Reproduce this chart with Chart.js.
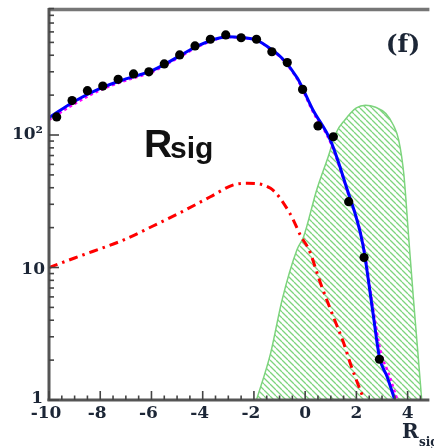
<!DOCTYPE html>
<html>
<head>
<meta charset="utf-8">
<script src="https://cdn.jsdelivr.net/npm/chart.js@4.4.1/dist/chart.umd.min.js"></script>
<style>
  html, body { margin: 0; padding: 0; background: #ffffff; }
  #wrap { width: 434px; height: 448px; }
</style>
</head>
<body>
<div id="wrap"><canvas id="c" width="434" height="448"></canvas></div>
<script>
// ---- data ----
const binCenters = [-9.7,-9.1,-8.5,-7.9,-7.3,-6.7,-6.1,-5.5,-4.9,-4.3,-3.7,-3.1,-2.5,-1.9,-1.3,-0.7,-0.1,0.5,1.1,1.7,2.3,2.9];
const dataCounts = [137,182,216,234,263,289,300,344,402,470,528,569,542,528,425,352,221,117,97,31.4,11.9,2.03];

const fitX = [-10,-9,-8,-7,-6,-5,-4.2,-3.5,-3.0,-2.5,-1.9,-1.3,-0.9,-0.3,0.3,1.0,1.6,2.25,2.65,2.9,3.2,3.5];
const fitY = [135,180,225,265,305,385,470,530,552,545,520,440,380,268,155,90,41,15,4.5,2.1,1.5,1.0];

const altX = [-10,-9,-8,-7,-6,-5,-4.2,-3.5,-3.0,-2.5,-1.9,-1.3,-0.9,-0.3,0.3,1.0,1.6,2.25,2.65,2.95,3.25,3.6];
const altY = [130,172,218,258,298,378,462,525,548,543,518,436,375,262,150,87,40,15.5,4.9,2.3,1.6,1.0];

const bkgX = [-10,-9,-8.3,-7.1,-6,-4.8,-3.7,-2.8,-2.25,-1.35,-0.6,-0.15,0.15,0.6,1.1,1.5,1.8,2.3];
const bkgY = [10,11.8,13.2,16.1,20.3,26.4,34.2,42,43.2,39.6,25.7,17,13.6,7.6,4.25,2.7,1.8,1.0];

const sigX = [-1.9,-1.35,-0.9,-0.32,-0.06,0.45,0.9,1.22,1.55,2.0,2.35,2.75,3.15,3.45,3.65,3.85,4.04,4.23,4.39,4.55];
const sigY = [1.0,2.25,5.7,13.6,17.1,38.5,68.6,105,130,160,168,162,145,118,92,51,17,5.7,2.4,1.0];

const xTickValues = [-10,-8,-6,-4,-2,0,2,4];
const xTickLabels = ["-10","-8","-6","-4","-2","0","2","4"];
const yTickValues = [1,10,100];
const yTickLabels = ["1","10","10\u00B2"];

// ---- helpers ----
function pts(xs, ys) { return xs.map((v, i) => ({ x: v, y: ys[i] })); }

function hatchPattern(color) {
  const s = 6;
  const c = document.createElement('canvas');
  c.width = s; c.height = s;
  const g = c.getContext('2d');
  g.strokeStyle = color;
  g.lineWidth = 1.3;
  g.beginPath();
  for (let k = -1; k <= 1; k++) {
    g.moveTo(k * s, 0);
    g.lineTo(k * s + s, s);
  }
  g.stroke();
  return g.createPattern(c, 'repeat');
}

const green = 'rgb(125,212,125)';

const framePlugin = {
  id: 'frame',
  afterDatasetsDraw(chart) {
    const { ctx, chartArea: a, scales: { x, y } } = chart;
    const seg = (x1, y1, x2, y2) => { ctx.beginPath(); ctx.moveTo(x1, y1); ctx.lineTo(x2, y2); ctx.stroke(); };
    ctx.save();
    // frame
    ctx.strokeStyle = '#767676'; ctx.lineWidth = 3.5;
    seg(a.left - 1, a.top + 1.5, a.right, a.top + 1.5);
    ctx.strokeStyle = '#555'; ctx.lineWidth = 3;
    seg(a.left, a.top, a.left, a.bottom + 1);
    seg(a.left - 1.5, a.bottom, a.right, a.bottom);
    // x ticks (inward)
    ctx.strokeStyle = '#444'; ctx.lineWidth = 1.6;
    for (let i = Math.ceil(x.min * 2); i <= Math.floor(x.max * 2); i++) {
      const v = i / 2;
      const px = x.getPixelForValue(v);
      const len = (i % 4 === 0) ? 9 : 4.5;
      seg(px, a.bottom, px, a.bottom - len);
    }
    // y ticks (inward, log)
    for (let d = 1; d <= 100; d *= 10) {
      for (let k = 1; k <= 9; k++) {
        const v = d * k;
        if (v > y.max) break;
        const py = y.getPixelForValue(v);
        const len = (k === 1) ? 10 : 5;
        seg(a.left, py, a.left + len, py);
      }
    }
    // tick labels
    ctx.fillStyle = '#1c2636';
    ctx.font = 'bold 17px "DejaVu Serif"';
    ctx.textAlign = 'center'; ctx.textBaseline = 'middle';
    xTickValues.forEach((v, i) => {
      ctx.fillText(xTickLabels[i], x.getPixelForValue(v) - (v < 0 ? 3 : 0), a.bottom + 14);
    });
    ctx.textAlign = 'right';
    yTickValues.forEach((v, i) => {
      const py = y.getPixelForValue(v);
      ctx.fillText(yTickLabels[i], i === 1 ? 45 : 43, py - (i === 0 ? 1 : 0) + (i === 1 ? 2 : 0));
    });
    // x axis title
    ctx.textAlign = 'left'; ctx.textBaseline = 'alphabetic';
    ctx.font = 'bold 20px "DejaVu Serif"';
    ctx.fillText('R', 402, 438);
    ctx.font = 'bold 12px "DejaVu Serif"';
    ctx.fillText('sig', 419, 446);
    // panel label
    ctx.font = 'bold 25px "DejaVu Serif"';
    ctx.textAlign = 'center'; ctx.textBaseline = 'middle';
    ctx.fillText('(f)', 403, 45);
    // Rsig annotation
    ctx.fillStyle = '#111';
    ctx.textAlign = 'left'; ctx.textBaseline = 'alphabetic';
    ctx.font = 'bold 39px "Liberation Sans"';
    ctx.fillText('R', 144, 157);
    ctx.font = 'bold 30px "Liberation Sans"';
    ctx.fillText('sig', 170, 158);
    ctx.restore();
  }
};

new Chart(document.getElementById('c'), {
  type: 'line',
  data: {
    datasets: [
      {
        label: 'data',
        data: pts(binCenters, dataCounts),
        showLine: false,
        pointRadius: 4.6,
        pointBackgroundColor: '#000',
        pointBorderColor: '#000',
        pointBorderWidth: 0,
        order: 0
      },
      {
        label: 'fit',
        data: pts(fitX, fitY),
        borderColor: '#0000ff',
        borderWidth: 3,
        pointRadius: 0,
        cubicInterpolationMode: 'monotone',
        fill: false,
        order: 1
      },
      {
        label: 'alt',
        data: pts(altX, altY),
        borderColor: '#ff00ff',
        borderWidth: 2.5,
        borderDash: [3, 3],
        pointRadius: 0,
        cubicInterpolationMode: 'monotone',
        fill: false,
        order: 2
      },
      {
        label: 'bkg',
        data: pts(bkgX, bkgY),
        borderColor: '#ff0000',
        borderWidth: 3,
        borderDash: [9, 5, 2.5, 5],
        pointRadius: 0,
        cubicInterpolationMode: 'monotone',
        fill: false,
        order: 3
      },
      {
        label: 'sig',
        data: pts(sigX, sigY),
        borderColor: green,
        borderWidth: 1.5,
        backgroundColor: hatchPattern(green),
        pointRadius: 0,
        cubicInterpolationMode: 'monotone',
        fill: 'start',
        order: 4
      }
    ]
  },
  options: {
    responsive: false,
    animation: false,
    devicePixelRatio: 1,
    layout: { padding: { left: 49, top: 8, right: 0, bottom: 48 } },
    plugins: { legend: { display: false }, tooltip: { enabled: false } },
    scales: {
      x: { type: 'linear', min: -10, max: 4.85, display: false },
      y: { type: 'logarithmic', min: 1, max: 909, display: false }
    }
  },
  plugins: [framePlugin]
});
</script>
</body>
</html>
